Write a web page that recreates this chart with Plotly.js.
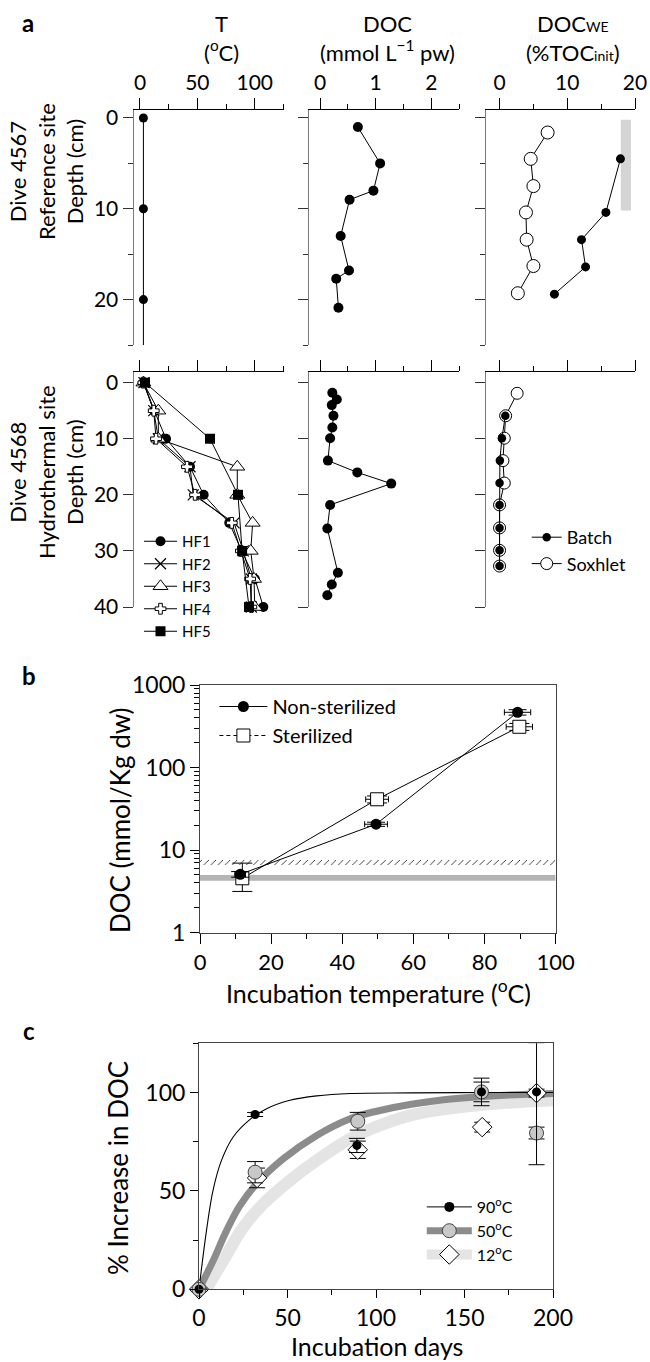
<!DOCTYPE html>
<html><head><meta charset="utf-8">
<script src="https://cdn.plot.ly/plotly-3.0.1.min.js"></script>
<style>html,body{margin:0;padding:0;background:#fff}</style>
</head><body><div id="chart" style="width:650px;height:1362px"></div>
<script>
// ---------- DATA ----------
// Panel a, reference site (Dive 4567)
const refTDepth = [0, 10, 20];
const refT = [3, 3, 3];
const refTLineDepth = [0, 25];
const refTLine = [3, 3];
const refDocDepth = [1, 5, 8, 9, 13, 16.8, 17.7, 20.9];
const refDoc = [0.68, 1.08, 0.96, 0.53, 0.37, 0.52, 0.29, 0.33];
const refSoxDepth = [1.6, 4.5, 7.5, 10.4, 13.4, 16.3, 19.3];
const refSox = [7.1, 4.6, 5.0, 3.9, 4.0, 5.0, 2.7];
const refBatchDepth = [4.5, 10.4, 13.4, 16.4, 19.4];
const refBatch = [17.85, 15.7, 12.1, 12.7, 8.1];
const refBarX = [17.9, 19.4];
const refBarDepth = [0.2, 10.2];
// Panel a, hydrothermal site (Dive 4568)
const hfDepth = [0, 5, 10, 15, 20, 25, 30, 35, 40];
const HF1 = [3, 12.5, 22.7, 43.6, 55.5, 77.8, 88.6, 100.2, 107.5];
const HF2 = [3.5, 12, 16, 43.6, 46.4, 82, 90, 97, 97];
const HF3 = [3, 16, 16, 84.8, 84.8, 98.2, 96.5, 99.4, 100];
const HF4 = [3, 12, 14, 41, 48, 80, 88, 96, 97];
const hf5Depth = [0, 10, 20, 30, 40];
const HF5 = [4.4, 61, 85.4, 89, 95];
const hydDocDepth = [1.8, 3, 4, 5.9, 8, 9.9, 13.9, 16, 18, 21.8, 26, 33.9, 36, 37.9];
const hydDoc = [0.22, 0.30, 0.21, 0.24, 0.22, 0.18, 0.14, 0.67, 1.28, 0.18, 0.13, 0.32, 0.21, 0.13];
const hydSoxDepth = [1.9, 5.9, 9.9, 13.9, 17.9, 21.8, 25.9, 29.9, 32.7];
const hydSox = [2.6, 0.9, 0.7, 0.5, 0.7, 0.0, 0.0, 0.0, 0.0];
const hydBatchDepth = [5.9, 9.9, 13.9, 17.9, 21.8, 25.9, 29.9, 32.7];
const hydBatch = [0.85, 0.35, 0.05, 0.0, 0.0, 0.0, 0.0, 0.0];
// Panel b
const nsTemp = [11.3, 49.5, 89.3];
const nsDoc = [5.1, 20.6, 467];
const nsErrY = [0.4, 1.2, 35];
const nsErrX = [1.5, 3.2, 3.7];
const stTemp = [11.9, 49.8, 89.8];
const stDoc = [4.56, 41.3, 312];
const stErrUp = [2.4, 4, 30];
const stErrDn = [1.4, 4, 30];
const stErrX = [1.5, 3.2, 3.7];
const bandX = [0, 100];
const hatchY = [6.6, 7.6];
const grayBandY = [4.26, 5.0];
// Panel c
const d90 = [0, 31.7, 89.2, 159.6, 190.7];
const v90 = [0, 88.8, 73.1, 100.3, 100.3];
const e90up = [0, 1, 3.6, 7, 25];
const e90dn = [0, 1, 3.6, 7, 37];
const d50 = [0, 31.7, 89.7, 159.6, 190.7];
const v50 = [0, 59.5, 85.4, 100.3, 79.4];
const e50 = [0, 5.4, 4.5, 5, 3];
const d12 = [0, 32.8, 89.7, 160, 190.7];
const v12 = [0, 56.6, 70.9, 82.4, 99.7];
const e12 = [0, 5, 4.4, 2.5, 2];
const fit90Days = [0, 4.2, 7.9, 12.7, 19.3, 28.7, 38.2, 51.4, 66.5, 85.4, 120, 160, 200];
const fit90 = [0, 29.7, 50.2, 65.5, 77.4, 86.2, 91.8, 96.1, 98.3, 99.5, 99.8, 100, 100];
const fit50Days = [0, 7.9, 15.5, 23.1, 32.5, 47.6, 66.5, 85.4, 98.5, 120, 145.4, 170, 200];
const fit50 = [0, 14.4, 29.7, 42.5, 53.6, 66.3, 78.2, 86.7, 90.1, 94, 96.9, 98.5, 99.5];
const fit12Days = [4, 13.6, 24.9, 36.3, 51.4, 66.5, 85.4, 98.5, 120, 145.4, 170, 200];
const fit12 = [0, 14.4, 31.4, 43.4, 55.3, 65.5, 76.5, 82, 88.5, 92.3, 94.5, 96.1];

// ---------- LAYOUT HELPERS ----------
const W = 650, H = 1362;
const px = v => v / W;
const py = v => 1 - v / H;
const K = '#000';
const FONT = 'Lato, "Open Sans", sans-serif';

function aX(dom, range, dtick, minor, labels, anchor) {
  return {domain: dom, range: range, anchor: anchor, side: 'top', showline: true, linecolor: K, linewidth: 1,
    ticks: 'outside', ticklen: 11, tickwidth: 1, tickcolor: K, dtick: dtick, tick0: 0,
    minor: {dtick: minor, tick0: 0, ticks: 'outside', ticklen: 5, tickwidth: 1, tickcolor: K},
    showticklabels: labels, showgrid: false, zeroline: false, tickfont: {size: 21}, fixedrange: true};
}
function aY(dom, range, minor, labels, anchor) {
  const o = {domain: dom, range: range, anchor: anchor, showline: true, linecolor: '#7a7a7a', linewidth: 1.5,
    ticks: 'outside', ticklen: 10, tickwidth: 1, tickcolor: '#333', dtick: 10, tick0: 0,
    showticklabels: labels, showgrid: false, zeroline: false, tickfont: {size: 21}, fixedrange: true};
  if (minor) o.minor = {dtick: 5, tick0: 0, ticks: 'outside', ticklen: 5, tickwidth: 1, tickcolor: '#333'};
  return o;
}

const dxT = [px(134), px(284)], dxD = [px(309), px(459)], dxW = [px(486), px(635)];
const dyTop = [py(345), py(110)], dyBot = [py(607), py(372)];

const layout = {
  width: W, height: H, margin: {l: 0, r: 0, t: 0, b: 0},
  paper_bgcolor: '#fff', plot_bgcolor: 'rgba(0,0,0,0)',
  font: {family: FONT, color: K, size: 20},
  showlegend: true,
  xaxis: aX(dxT, [-5.2, 125.5], 50, 25, true, 'y'),
  yaxis: aY(dyTop, [25, -0.88], true, true, 'x'),
  xaxis2: aX(dxD, [-0.2, 2.5], 1, 0.5, true, 'y2'),
  yaxis2: aY(dyTop, [25, -0.88], true, false, 'x2'),
  xaxis3: aX(dxW, [-2, 20], 10, 5, true, 'y3'),
  yaxis3: aY(dyTop, [25, -0.88], true, false, 'x3'),
  xaxis4: aX(dxT, [-5.2, 125.5], 50, 25, false, 'y4'),
  yaxis4: aY(dyBot, [40, -1.9], false, true, 'x4'),
  xaxis5: aX(dxD, [-0.2, 2.5], 1, 0.5, false, 'y5'),
  yaxis5: aY(dyBot, [40, -1.9], false, false, 'x5'),
  xaxis6: aX(dxW, [-2, 20], 10, 5, false, 'y6'),
  yaxis6: aY(dyBot, [40, -1.9], false, false, 'x6'),
  xaxis7: {domain: [px(200), px(555.6)], range: [0, 100], anchor: 'y7', showline: true, mirror: true,
    linecolor: '#444', linewidth: 1, ticks: 'outside', ticklen: 10, tickcolor: K, dtick: 20, tick0: 0,
    minor: {dtick: 10, tick0: 0, ticks: 'outside', ticklen: 5, tickcolor: K},
    showgrid: false, zeroline: false, tickfont: {size: 22}, fixedrange: true},
  yaxis7: {domain: [py(932.7), py(685)], type: 'log', range: [0, 3], anchor: 'x7', showline: true, mirror: true,
    linecolor: '#444', linewidth: 1, ticks: 'outside', ticklen: 9, tickcolor: K, dtick: 1, exponentformat: 'none',
    minor: {dtick: 'D1', ticks: 'outside', ticklen: 5, tickcolor: K},
    showgrid: false, zeroline: false, tickfont: {size: 23}, fixedrange: true},
  xaxis8: {domain: [px(199), px(553)], range: [0, 200], anchor: 'y8', showline: true, mirror: true,
    linecolor: '#444', linewidth: 1, ticks: 'outside', ticklen: 8, tickcolor: K, dtick: 50, tick0: 0,
    minor: {dtick: 25, tick0: 0, ticks: 'outside', ticklen: 5, tickcolor: K},
    showgrid: false, zeroline: false, tickfont: {size: 23}, fixedrange: true},
  yaxis8: {domain: [py(1289.3), py(1043.3)], range: [0, 125], anchor: 'x8', showline: true, mirror: true,
    linecolor: '#444', linewidth: 1, ticks: 'outside', ticklen: 8, tickcolor: K, dtick: 50, tick0: 0,
    minor: {dtick: 25, tick0: 0, ticks: 'outside', ticklen: 5, tickcolor: K},
    showgrid: false, zeroline: false, tickfont: {size: 23}, fixedrange: true},
  legend: {x: px(139), y: py(525), xanchor: 'left', yanchor: 'top', font: {size: 15}, itemwidth: 33,
    bgcolor: 'rgba(0,0,0,0)', borderwidth: 0, tracegroupgap: 0},
  legend2: {x: px(526.7), y: py(519), xanchor: 'left', yanchor: 'top', font: {size: 18}, itemwidth: 30,
    bgcolor: 'rgba(0,0,0,0)', borderwidth: 0, tracegroupgap: 0},
  legend3: {x: px(214.4), y: py(687), xanchor: 'left', yanchor: 'top', font: {size: 20}, itemwidth: 48,
    bgcolor: 'rgba(0,0,0,0)', borderwidth: 0, tracegroupgap: 0},
  legend4: {x: px(421.8), y: py(1190), xanchor: 'left', yanchor: 'top', font: {size: 16}, itemwidth: 45,
    bgcolor: 'rgba(0,0,0,0)', borderwidth: 0, tracegroupgap: 0},
  annotations: []
};

function ann(text, x, y, size, extra) {
  layout.annotations.push(Object.assign({text: text, x: px(x), y: py(y), xref: 'paper', yref: 'paper',
    showarrow: false, xanchor: 'center', yanchor: 'middle', font: {size: size, family: FONT, color: K}}, extra || {}));
}
ann('<b>a</b>', 28, 22, 24);
ann('<b>b</b>', 29, 675, 24);
ann('<b>c</b>', 29, 1030, 24);
ann('T<br>(<sup>o</sup>C)', 221, 68, 22, {yanchor: 'bottom'});
ann('DOC<br>(mmol L<sup>\u22121</sup> pw)', 387, 68, 22, {yanchor: 'bottom'});
ann('DOC<span style="font-size:14px">WE</span><br>(%TOC<span style="font-size:14px">init</span>)', 573, 68, 22, {yanchor: 'bottom'});
ann('Dive 4567<br>Reference site<br>Depth (cm)', 46, 172, 22, {textangle: -90});
ann('Dive 4568<br>Hydrothermal site<br>Depth (cm)', 46, 472, 22, {textangle: -90});
ann('DOC (mmol/Kg dw)', 120, 820, 26, {textangle: -90});
ann('Incubation temperature (<sup>o</sup>C)', 378, 991, 25);
ann('% Increase in DOC', 118, 1168, 26, {textangle: -90});
ann('Incubation days', 377, 1346, 25);

// ---------- TRACES ----------
const L1 = {color: K, width: 1};
const traces = [];
function add(t) { traces.push(Object.assign({type: 'scatter', showlegend: false, hoverinfo: 'skip'}, t)); }

// a top
add({x: refTLine, y: refTLineDepth, xaxis: 'x', yaxis: 'y', mode: 'lines', line: L1});
add({x: refT, y: refTDepth, xaxis: 'x', yaxis: 'y', mode: 'markers', marker: {size: 9, color: K}, cliponaxis: false});
add({x: refDoc, y: refDocDepth, xaxis: 'x2', yaxis: 'y2', mode: 'lines+markers', line: L1, marker: {size: 10, color: K}});
add({x: [refBarX[0], refBarX[1], refBarX[1], refBarX[0]], y: [refBarDepth[0], refBarDepth[0], refBarDepth[1], refBarDepth[1]],
  xaxis: 'x3', yaxis: 'y3', mode: 'lines', fill: 'toself', fillcolor: '#d4d4d4', line: {width: 0}});
add({x: refSox, y: refSoxDepth, xaxis: 'x3', yaxis: 'y3', mode: 'lines+markers', line: L1,
  marker: {size: 13, color: '#fff', line: {color: K, width: 1}}});
add({x: refBatch, y: refBatchDepth, xaxis: 'x3', yaxis: 'y3', mode: 'lines+markers', line: L1, marker: {size: 9, color: K}});

// a bottom
const hfStyles = [
  {name: 'HF1', x: HF1, y: hfDepth, marker: {symbol: 'circle', size: 10, color: K}},
  {name: 'HF2', x: HF2, y: hfDepth, marker: {symbol: 'x-thin', size: 11, color: K, line: {color: K, width: 1.2}}},
  {name: 'HF3', x: HF3, y: hfDepth, marker: {symbol: 'triangle-up', size: 13, color: '#fff', line: {color: K, width: 1}}},
  {name: 'HF4', x: HF4, y: hfDepth, marker: {symbol: 'cross', size: 9, color: '#fff', line: {color: K, width: 1}}},
  {name: 'HF5', x: HF5, y: hf5Depth, marker: {symbol: 'square', size: 10, color: K}}
];
hfStyles.forEach(s => add(Object.assign({xaxis: 'x4', yaxis: 'y4', mode: 'lines+markers', line: L1,
  showlegend: true, legend: 'legend', cliponaxis: false}, s)));
add({x: hydDoc, y: hydDocDepth, xaxis: 'x5', yaxis: 'y5', mode: 'lines+markers', line: L1, marker: {size: 10, color: K}});
add({x: hydSox, y: hydSoxDepth, xaxis: 'x6', yaxis: 'y6', mode: 'lines+markers', line: L1, name: 'Soxhlet',
  showlegend: true, legend: 'legend2', legendrank: 2, cliponaxis: false,
  marker: {size: 12, color: '#fff', line: {color: K, width: 1}}});
add({x: hydBatch, y: hydBatchDepth, xaxis: 'x6', yaxis: 'y6', mode: 'lines+markers', line: L1, name: 'Batch',
  showlegend: true, legend: 'legend2', legendrank: 1, cliponaxis: false, marker: {size: 8.5, color: K}});

// b
add({x: [bandX[0], bandX[1], bandX[1], bandX[0]], y: [grayBandY[0], grayBandY[0], grayBandY[1], grayBandY[1]],
  xaxis: 'x7', yaxis: 'y7', mode: 'lines', fill: 'toself', fillcolor: '#b4b4b4', line: {width: 0}});
add({x: [bandX[0], bandX[1], bandX[1], bandX[0]], y: [hatchY[0], hatchY[0], hatchY[1], hatchY[1]],
  xaxis: 'x7', yaxis: 'y7', mode: 'lines', fill: 'toself', fillcolor: '#fff', line: {width: 0},
  fillpattern: {shape: '/', size: 5, solidity: 0.15, fgcolor: K, bgcolor: '#fff', fgopacity: 1}});
add({x: stTemp, y: stDoc, xaxis: 'x7', yaxis: 'y7', mode: 'lines+markers', line: L1,
  marker: {symbol: 'square', size: 13, color: '#fff', line: {color: K, width: 1}},
  error_y: {type: 'data', symmetric: false, array: stErrUp, arrayminus: stErrDn, color: K, thickness: 1, width: 10},
  error_x: {type: 'data', array: stErrX, color: K, thickness: 1, width: 3}});
add({x: nsTemp, y: nsDoc, xaxis: 'x7', yaxis: 'y7', mode: 'lines+markers', line: L1, name: 'Non-sterilized',
  showlegend: true, legend: 'legend3', legendrank: 1, marker: {symbol: 'circle', size: 11, color: K},
  error_y: {type: 'data', array: nsErrY, color: K, thickness: 1, width: 9},
  error_x: {type: 'data', array: nsErrX, color: K, thickness: 1, width: 3}});
add({x: [null], y: [null], xaxis: 'x7', yaxis: 'y7', mode: 'lines+markers', name: 'Sterilized',
  showlegend: true, legend: 'legend3', legendrank: 2, line: {color: K, width: 1, dash: '4px,3px'},
  marker: {symbol: 'square', size: 13, color: '#fff', line: {color: K, width: 1}}});

// c
add({x: fit12Days, y: fit12, xaxis: 'x8', yaxis: 'y8', mode: 'lines', line: {color: '#e4e4e4', width: 12, shape: 'spline'}});
add({x: fit50Days, y: fit50, xaxis: 'x8', yaxis: 'y8', mode: 'lines', line: {color: '#8c8c8c', width: 7, shape: 'spline'}});
add({x: fit90Days, y: fit90, xaxis: 'x8', yaxis: 'y8', mode: 'lines', line: {color: K, width: 1.1, shape: 'spline'}});
add({x: d12, y: v12, xaxis: 'x8', yaxis: 'y8', mode: 'markers', cliponaxis: false,
  marker: {symbol: 'diamond', size: 15, color: '#fff', line: {color: K, width: 1}},
  error_y: {type: 'data', array: e12, color: K, thickness: 1, width: 8}});
add({x: d50, y: v50, xaxis: 'x8', yaxis: 'y8', mode: 'markers', cliponaxis: false,
  marker: {symbol: 'circle', size: 14, color: '#c8c8c8', line: {color: '#444', width: 1}},
  error_y: {type: 'data', array: e50, color: K, thickness: 1, width: 8}});
add({x: d90, y: v90, xaxis: 'x8', yaxis: 'y8', mode: 'markers', cliponaxis: false,
  marker: {symbol: 'circle', size: 9, color: K},
  error_y: {type: 'data', symmetric: false, array: e90up, arrayminus: e90dn, color: K, thickness: 1, width: 8}});
add({x: [null], y: [null], xaxis: 'x8', yaxis: 'y8', mode: 'lines+markers', name: '90<sup>o</sup>C',
  showlegend: true, legend: 'legend4', legendrank: 1, line: {color: K, width: 1}, marker: {size: 10, color: K}});
add({x: [null], y: [null], xaxis: 'x8', yaxis: 'y8', mode: 'lines+markers', name: '50<sup>o</sup>C',
  showlegend: true, legend: 'legend4', legendrank: 2, line: {color: '#8c8c8c', width: 7},
  marker: {size: 14, color: '#c8c8c8', line: {color: '#444', width: 1}}});
add({x: [null], y: [null], xaxis: 'x8', yaxis: 'y8', mode: 'lines+markers', name: '12<sup>o</sup>C',
  showlegend: true, legend: 'legend4', legendrank: 3, line: {color: '#e4e4e4', width: 10},
  marker: {symbol: 'diamond', size: 15, color: '#fff', line: {color: K, width: 1}}});

Plotly.newPlot('chart', traces, layout, {staticPlot: true, displayModeBar: false});
</script></body></html>
